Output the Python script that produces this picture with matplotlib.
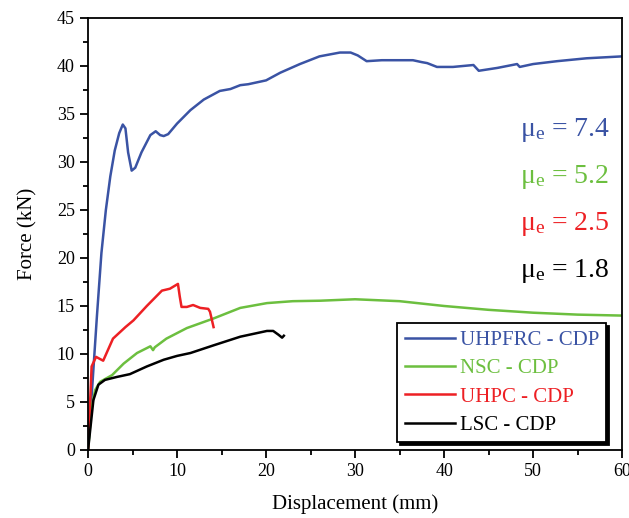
import matplotlib
matplotlib.use("Agg")
import matplotlib.pyplot as plt
from matplotlib.ticker import MultipleLocator

plt.rcParams['font.family'] = ['Liberation Serif', 'DejaVu Serif']
plt.rcParams['mathtext.fontset'] = 'custom'
plt.rcParams['mathtext.rm'] = 'Liberation Serif'
plt.rcParams['mathtext.it'] = 'Liberation Serif:italic'

# UHPFRC - CDP
uhpfrc_x = [0, 0.5, 1, 1.5, 2, 2.5, 3, 3.5, 3.9, 4.2, 4.5, 4.9, 5.3, 6, 7, 7.6, 8.1, 8.5, 9,
            10, 11.5, 13, 14.8, 16, 17.1, 18, 19.5, 20, 21.6, 23.8, 26, 28.3, 29.5, 30.3,
            31.3, 33, 36.5, 37.5, 38.1, 39.2, 41, 43.3, 43.9, 46, 48.2, 48.5, 50, 52.7, 56, 60]
uhpfrc_y = [0, 7, 14, 20.5, 25, 28.5, 31.2, 33, 33.9, 33.5, 31, 29.1, 29.4, 31, 32.8, 33.2, 32.8,
            32.7, 32.9, 34, 35.4, 36.5, 37.4, 37.6, 38.0, 38.1, 38.4, 38.5, 39.3, 40.2, 41, 41.4,
            41.4, 41.1, 40.5, 40.6, 40.6, 40.4, 40.3, 39.9, 39.9, 40.1, 39.5, 39.8, 40.2, 39.9,
            40.2, 40.5, 40.8, 41.0]

# NSC - CDP
nsc_x = [0, 0.4, 0.8, 1.35, 2.7, 4.0, 5.5, 7.0, 7.3, 7.5, 8.8, 11.1, 14.1, 17.1, 20.1, 23,
         26.1, 30, 35, 40, 45, 50, 55, 60]
nsc_y = [0, 4.5, 6.25, 7.1, 7.8, 9.0, 10.1, 10.8, 10.4, 10.7, 11.6, 12.7, 13.7, 14.8, 15.3,
         15.5, 15.55, 15.7, 15.5, 15.0, 14.6, 14.3, 14.1, 14.0]

# UHPC - CDP
uhpc_x = [0, 0.4, 0.9, 1.7, 2.8, 4.2, 5.1, 6.6, 8.3, 9.2, 10.1, 10.3, 10.5, 11.1, 11.8, 12.6,
          13.5, 13.7, 14.1]
uhpc_y = [0, 8.7, 9.7, 9.3, 11.6, 12.8, 13.5, 15.0, 16.6, 16.8, 17.3, 16.0, 14.9, 14.9, 15.1,
          14.8, 14.7, 14.4, 12.8]

# LSC - CDP
lsc_x = [0, 0.6, 1.16, 1.9, 3.2, 4.7, 6.6, 8.5, 10.0, 11.5, 14.1, 17.1, 20.1, 20.8, 21.4,
         21.8, 22.0]
lsc_y = [0, 5.2, 6.8, 7.3, 7.6, 7.9, 8.7, 9.4, 9.8, 10.1, 10.9, 11.8, 12.4, 12.4, 12.0, 11.7,
         11.9]

labels = ['UHPFRC - CDP', 'NSC - CDP', 'UHPC - CDP', 'LSC - CDP']
colors = ['#3a53a4', '#6cbf3f', '#ed2024', '#000000']
ductility = ['7.4', '5.2', '2.5', '1.8']

fig = plt.figure(figsize=(6.29, 5.18), dpi=100)
ax = fig.add_axes([0.140, 0.1313, 0.849, 0.834])

series = [(uhpfrc_x, uhpfrc_y), (nsc_x, nsc_y), (uhpc_x, uhpc_y), (lsc_x, lsc_y)]
for (xs, ys), lab, c in zip(series, labels, colors):
    ax.plot(xs, ys, color=c, lw=1.8, label=lab)

ax.set_xlim(0, 60)
ax.set_ylim(0, 45)
ax.xaxis.set_major_locator(MultipleLocator(10))
ax.xaxis.set_minor_locator(MultipleLocator(5))
ax.yaxis.set_major_locator(MultipleLocator(5))
ax.yaxis.set_minor_locator(MultipleLocator(2.5))
ax.tick_params(which='both', direction='out', width=1.3, labelsize=13)
ax.tick_params(which='major', length=6)
ax.tick_params(which='minor', length=3.5)
for s in ax.spines.values():
    s.set_linewidth(1.3)

ax.set_xlabel('Displacement (mm)', fontsize=15, labelpad=10)
ax.set_ylabel('Force (kN)', fontsize=15, labelpad=14)

# ductility ratio for each model
for i, (d, c) in enumerate(zip(ductility, colors)):
    ax.text(48.5, 33.3 - 4.9 * i, r'$\mathrm{\mu_e}$ = ' + d, color=c, fontsize=20,
            ha='left', va='center')

leg = ax.legend(loc='upper left', bbox_to_anchor=(0.579, 0.294), borderaxespad=0,
                fontsize=15, handlelength=2.4, labelspacing=0.42, handletextpad=0.25,
                borderpad=0.35, fancybox=False, shadow={'color': 'black', 'alpha': 1},
                edgecolor='black', framealpha=1)
leg.get_frame().set_linewidth(1.3)
for txt, c in zip(leg.get_texts(), colors):
    txt.set_color(c)

fig.savefig('out.png', dpi=100)
